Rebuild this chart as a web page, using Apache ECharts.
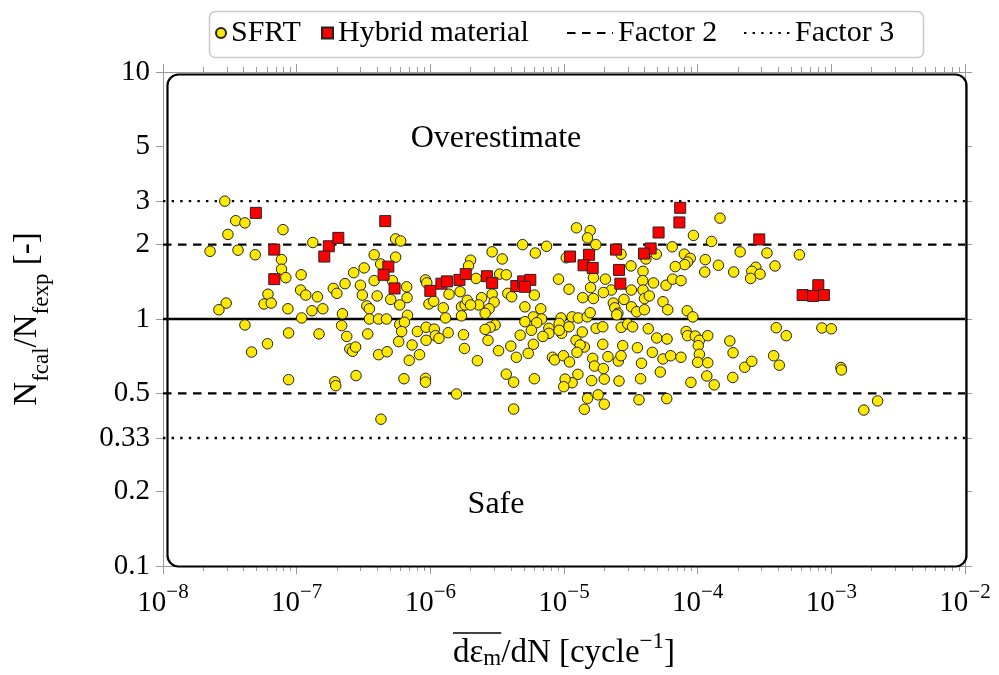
<!DOCTYPE html>
<html>
<head>
<meta charset="utf-8">
<script src="https://cdn.jsdelivr.net/npm/echarts@6/dist/echarts.min.js"></script>
<style>html,body{margin:0;padding:0;background:#fff}#c{width:999px;height:675px}</style>
</head>
<body>
<div id="c"></div>
<script>
// ---------- data ----------
const sfrt = [
 [2.9e-8,3.0],[3.5e-8,2.5],[4.1e-8,2.45],[3.06e-8,2.2],[7.9e-8,2.3],[2.25e-8,1.88],[3.64e-8,1.9],[4.9e-8,1.82],[1.32e-7,2.04],[7.7e-8,1.74],
 [7.7e-8,1.59],[8.3e-8,1.47],[1.08e-7,1.51],[6.1e-8,1.26],[5.7e-8,1.15],[6.45e-8,1.16],[2.97e-8,1.16],[2.62e-8,1.09],[8.6e-8,1.10],[1.07e-7,1.31],
 [1.17e-7,1.25],[1.43e-7,1.23],[1.30e-7,1.08],[1.57e-7,1.10],[1.09e-7,1.01],[4.1e-8,0.946],[8.7e-8,0.878],[1.47e-7,0.87],[6.05e-8,0.794],[4.6e-8,0.735],
 [8.7e-8,0.568],
 [5.5e-7,2.11],[6.0e-7,2.07],[3.8e-7,1.82],[5.5e-7,1.78],[4.25e-7,1.67],[3.2e-7,1.61],[2.67e-7,1.54],[2.3e-7,1.39],[3.0e-7,1.37],[3.8e-7,1.43],
 [5.2e-7,1.43],[6.65e-7,1.35],[6.7e-7,1.22],[9.2e-7,1.44],[9.4e-7,1.40],[1.88e-7,1.33],[2.0e-7,1.27],[3.1e-7,1.25],[4.0e-7,1.24],[5.05e-7,1.20],
 [5.9e-7,1.14],[9.76e-7,1.15],[1.06e-6,1.18],[3.35e-7,1.13],[3.5e-7,1.10],[2.2e-7,1.05],[3.5e-7,1.0],[4.1e-7,1.0],[4.7e-7,1.0],[6.75e-7,1.035],
 [1.25e-6,1.11],[1.30e-6,1.01],[1.71e-6,1.12],[1.82e-6,1.14],[1.89e-6,1.19],[1.71e-6,1.03],[2.17e-7,0.94],[2.37e-7,0.85],[3.4e-7,0.87],[5.9e-7,0.95],
 [6.4e-7,0.97],[6.1e-7,0.89],[5.8e-7,0.81],[8.0e-7,0.89],[9.3e-7,0.926],[1.07e-6,0.91],[1.09e-6,0.856],[9.3e-7,0.82],[1.16e-6,0.835],[1.36e-6,0.88],
 [1.77e-6,0.864],[1.8e-6,0.76],[2.5e-7,0.756],[2.62e-7,0.74],[2.76e-7,0.77],[4.1e-7,0.717],[4.75e-7,0.737],[7.3e-7,0.785],[8.3e-7,0.717],[6.95e-7,0.68],
 [2.78e-7,0.59],[1.93e-7,0.557],[1.96e-7,0.537],[6.35e-7,0.573],[9.2e-7,0.575],[9.2e-7,0.555],[1.57e-6,0.497],[4.27e-7,0.393],[1.38e-6,1.26],[1.67e-6,1.29],
 [1.24e-5,2.34],[1.57e-5,2.28],[1.50e-5,2.13],[1.73e-5,2.0],[4.9e-6,2.0],[7.4e-6,1.97],[6.1e-6,1.85],[1.04e-5,1.77],[2.9e-6,1.87],[3.45e-6,1.75],
 [2.0e-6,1.73],[1.93e-6,1.64],[2.2e-6,1.46],[3.3e-6,1.52],[3.7e-6,1.51],[9.1e-6,1.45],[1.09e-5,1.32],[1.66e-5,1.47],[1.58e-5,1.34],[1.38e-5,1.22],
 [1.66e-5,1.21],[2.42e-6,1.22],[2.9e-6,1.26],[3.0e-6,1.17],[2.75e-6,1.10],[2.3e-6,1.14],[2.0e-6,1.14],[3.8e-6,1.27],[4.06e-6,1.23],[6.0e-6,1.25],
 [5.1e-6,1.12],[6.7e-6,1.10],[2.57e-6,1.055],[5.9e-6,1.02],[6.8e-6,1.0],[9.5e-6,1.01],[1.15e-5,1.02],[1.28e-5,1.01],[1.49e-5,1.02],[1.57e-5,1.06],
 [5.1e-6,0.975],[6.25e-6,0.966],[3.05e-6,0.946],[2.8e-6,0.926],[2.57e-6,0.908],[4.7e-6,0.86],[5.7e-6,0.90],[7.7e-6,0.917],[7.7e-6,0.875],[9.2e-6,0.96],
 [9.6e-6,0.875],[1.09e-5,0.93],[9.2e-6,0.90],[6.95e-6,0.85],[1.23e-5,0.82],[1.37e-5,0.886],[1.42e-5,0.77],[1.32e-5,0.785],[1.74e-5,0.917],[2.7e-6,0.82],
 [3.24e-6,0.744],[4.0e-6,0.777],[5.9e-6,0.79],[5.4e-6,0.726],[4.4e-6,0.70],[2.25e-6,0.678],[8.2e-6,0.70],[8.5e-6,0.683],[9.9e-6,0.71],[1.1e-5,0.67],
 [1.25e-5,0.733],[1.64e-5,0.693],[1.69e-5,0.645],[1.27e-5,0.597],[1.15e-5,0.552],[1.02e-5,0.571],[9.95e-6,0.532],[1.61e-5,0.563],[3.7e-6,0.598],[4.2e-6,0.555],
 [6.0e-6,0.573],[1.5e-5,0.477],[1.8e-5,0.493],[1.42e-5,0.431],[4.2e-6,0.432],
 [1.47e-4,2.56],[9.3e-5,2.18],[1.27e-4,2.06],[6.45e-5,1.96],[4.9e-5,1.83],[4.1e-5,1.75],[2.67e-5,1.83],[7.95e-5,1.83],[8.8e-5,1.76],[8.4e-5,1.70],
 [8.0e-5,1.66],[1.14e-4,1.74],[1.43e-4,1.65],[1.13e-4,1.55],[1.86e-4,1.55],[6.8e-5,1.63],[3.17e-5,1.64],[3.9e-5,1.56],[3.88e-5,1.43],[3.9e-5,1.31],
 [4.0e-5,1.21],[4.67e-5,1.40],[5.8e-5,1.37],[6.5e-5,1.45],[7.5e-5,1.43],[2.04e-5,1.45],[2.26e-5,1.31],[1.97e-5,1.28],[3.19e-5,1.31],[4.35e-5,1.24],
 [2.81e-5,1.20],[2.34e-5,1.16],[2.4e-5,1.11],[2.53e-5,1.055],[2.48e-5,1.04],[5.5e-5,1.175],[5.97e-5,1.09],[3.2e-5,1.12],[3.5e-5,1.07],[4.0e-5,1.09],
 [8.35e-5,1.08],[9.2e-5,1.02],[1.95e-5,0.93],[2.68e-5,0.925],[3.0e-5,0.954],[3.26e-5,0.93],[4.27e-5,0.913],[4.94e-5,0.838],[5.9e-5,0.83],[8.2e-5,0.89],
 [8.4e-5,0.856],[9.6e-5,0.853],[1.03e-4,0.82],[1.19e-4,0.856],[1.95e-5,0.79],[2.75e-5,0.78],[3.54e-5,0.765],[4.58e-5,0.733],[5.5e-5,0.689],[6.28e-5,0.71],
 [7.5e-5,0.70],[1.01e-4,0.78],[1.03e-4,0.72],[1.0e-4,0.668],[1.19e-4,0.665],[2.13e-5,0.704],[2.55e-5,0.676],[2.67e-5,0.71],[3.8e-5,0.662],[1.97e-5,0.63],
 [2.0e-5,0.571],[2.58e-5,0.561],[3.74e-5,0.573],[5.25e-5,0.61],[8.9e-5,0.554],[1.17e-4,0.588],[1.33e-4,0.541],[1.83e-4,0.58],[3.64e-5,0.471],[5.87e-5,0.476],
 [2.0e-5,0.452],[1.74e-4,0.815],[1.84e-4,0.73],
 [2.08e-4,1.87],[3.3e-4,1.85],[5.77e-4,1.82],[2.72e-4,1.62],[2.54e-4,1.56],[2.93e-4,1.52],[2.49e-4,1.46],[3.79e-4,1.64],[3.87e-4,0.922],[4.6e-4,0.856],
 [8.5e-4,0.92],[1.0e-3,0.913],[3.7e-4,0.71],[4.08e-4,0.65],[2.25e-4,0.638],[2.54e-4,0.674],[1.18e-3,0.636],[1.19e-3,0.622],[2.22e-3,0.466],[1.75e-3,0.428]
];
const hybrid = [
 [4.95e-8,2.69],[6.8e-8,1.91],[6.8e-8,1.45],[1.74e-7,1.97],[1.61e-7,1.79],[2.05e-7,2.13],[4.6e-7,2.49],[4.85e-7,1.63],[4.47e-7,1.51],[5.4e-7,1.33],
 [1.0e-6,1.30],[1.21e-6,1.39],[1.33e-6,1.42],[1.65e-6,1.44],[1.84e-6,1.52],[2.65e-6,1.49],[2.9e-6,1.40],[4.4e-6,1.36],[4.95e-6,1.42],[5.6e-6,1.44],
 [5.1e-6,1.35],[1.11e-5,1.79],[1.54e-5,1.82],[1.40e-5,1.65],[1.64e-5,1.61],[7.4e-5,2.82],[7.3e-5,2.46],[5.1e-5,2.24],[4.45e-5,1.93],[3.97e-5,1.84],
 [2.45e-5,1.91],[2.58e-5,1.58],[2.64e-5,1.39],[2.89e-4,2.10],[7.99e-4,1.37],[6.1e-4,1.25],[7.3e-4,1.24],[8.8e-4,1.25]
];
const xRange = [1e-8, 1e-2];
const yRange = [0.1, 10];
const xMajorTicks = [1e-8, 1e-7, 1e-6, 1e-5, 1e-4, 1e-3, 1e-2];
const yTicks = [0.1, 0.2, 0.33, 0.5, 1, 2, 3, 5, 10];
const factor2Levels = [2, 0.5];
const factor3Levels = [3, 0.33];
const unityLevel = 1;
const notes = [
 {name: 'Overestimate', value: [3.1e-6, 5.4]},
 {name: 'Safe', value: [3.1e-6, 0.178]}
];

// minor tick values (2..9 x each decade)
const xMinorTicks = [];
for (let i = 0; i < xMajorTicks.length - 1; i++) {
  for (let m = 2; m <= 9; m++) xMinorTicks.push(+(m * xMajorTicks[i]).toPrecision(3));
}

const FONT = 'Liberation Serif';
const TICK_GRAY = '#9a9a9a';
const GRID = {left: 163, right: 34, top: 72, bottom: 109};
const W = 999, H = 675;

function hline(level) { return [[xRange[0], level], [xRange[1], level]]; }

const chart = echarts.init(document.getElementById('c'), null, {renderer: 'canvas'});

function xAxisDef(pos, ticks, len, labels) {
  return {
    type: 'log', logBase: 10, min: xRange[0], max: xRange[1], position: pos, gridIndex: 0,
    axisLine: {show: true, lineStyle: {color: TICK_GRAY, width: 1}},
    axisTick: {show: true, inside: false, length: len, customValues: ticks, lineStyle: {color: TICK_GRAY, width: 1}},
    axisLabel: labels ? {
      show: true, customValues: xMajorTicks, margin: 16, color: '#000',
      formatter: v => '{b|10}{s|\u2212' + Math.round(-Math.log10(v)) + '}',
      rich: {
        b: {fontFamily: FONT, fontSize: 29, lineHeight: 36, verticalAlign: 'bottom', color: '#000'},
        s: {fontFamily: FONT, fontSize: 21, lineHeight: 20, verticalAlign: 'top', color: '#000'}
      }
    } : {show: false},
    splitLine: {show: false}, minorTick: {show: false}
  };
}
function yAxisDef(pos, labels) {
  return {
    type: 'log', logBase: 10, min: yRange[0], max: yRange[1], position: pos,
    axisLine: {show: true, lineStyle: {color: TICK_GRAY, width: 1}},
    axisTick: {show: true, inside: false, length: 7, customValues: yTicks, lineStyle: {color: TICK_GRAY, width: 1}},
    axisLabel: labels ? {
      show: true, customValues: yTicks, margin: 13, color: '#000',
      fontFamily: FONT, fontSize: 29, formatter: v => String(v)
    } : {show: false},
    splitLine: {show: false}
  };
}

// x-axis title pieces
const XT = {main: 33, small: 23};
const xTitleParts = [['o', 'd\u03b5'], ['sub', 'm'], ['t', '/dN [cycle'], ['sup', '\u22121'], ['t', ']']];

const xAxes = [
  xAxisDef('bottom', xMajorTicks, 8, true),
  xAxisDef('bottom', xMinorTicks, 5, false),
  xAxisDef('top', xMajorTicks, 8, false),
  xAxisDef('top', xMinorTicks, 5, false)
];
const X_NAME_GAP = 64;
xAxes[0].name = xTitleParts.map(p => '{' + p[0] + '|' + p[1] + '}').join('');
xAxes[0].nameLocation = 'middle';
xAxes[0].nameGap = X_NAME_GAP;
xAxes[0].nameTextStyle = {
  color: '#000',
  rich: {
    o: {fontFamily: FONT, fontSize: XT.main, lineHeight: 40, verticalAlign: 'bottom', color: '#000'},
    t: {fontFamily: FONT, fontSize: XT.main, lineHeight: 40, verticalAlign: 'bottom', color: '#000'},
    sub: {fontFamily: FONT, fontSize: XT.small, lineHeight: 16, verticalAlign: 'bottom', color: '#000'},
    sup: {fontFamily: FONT, fontSize: XT.small, lineHeight: 22, verticalAlign: 'top', color: '#000'}
  }
};
const yAxes = [yAxisDef('left', true), yAxisDef('right', false)];
yAxes[0].name = '{t|N}{sub|fcal}{t|/N}{sub|fexp}{t| [-]}';
yAxes[0].nameLocation = 'middle';
yAxes[0].nameRotate = 90;
yAxes[0].nameGap = 110;
yAxes[0].nameTextStyle = {
  color: '#000',
  rich: {
    t: {fontFamily: FONT, fontSize: 33, lineHeight: 42, verticalAlign: 'top', color: '#000'},
    sub: {fontFamily: FONT, fontSize: 23, lineHeight: 16, verticalAlign: 'bottom', color: '#000'}
  }
};

// overline over "dε_m" computed from measured text widths
const mctx = document.createElement('canvas').getContext('2d');
function tw(txt, size) { mctx.font = size + 'px "' + FONT + '"'; return mctx.measureText(txt).width; }
const partW = xTitleParts.map(p => tw(p[1], (p[0] === 'o' || p[0] === 't') ? XT.main : XT.small));
const totalW = partW.reduce((a, b) => a + b, 0);
const plotCx = GRID.left + (W - GRID.left - GRID.right) / 2;
const olX1 = plotCx - totalW / 2;
const olX2 = olX1 + partW[0] + partW[1];
const olY = (H - GRID.bottom) + X_NAME_GAP + 3;

const lineBase = {type: 'line', xAxisIndex: 0, yAxisIndex: 0, symbol: 'none', showSymbol: false, silent: true, z: 2};
const series = [];
factor2Levels.forEach(l => series.push(Object.assign({}, lineBase, {
  name: 'Factor 2', data: hline(l), lineStyle: {color: '#000', width: 2.2, type: [8.5, 6.5]}, itemStyle: {color: '#000'}
})));
factor3Levels.forEach(l => series.push(Object.assign({}, lineBase, {
  name: 'Factor 3', data: hline(l), lineStyle: {color: '#000', width: 2.4, type: [2.4, 6.2], cap: 'butt'}, itemStyle: {color: '#000'}
})));
series.push(Object.assign({}, lineBase, {
  name: 'unity', data: hline(unityLevel), lineStyle: {color: '#000', width: 2.6, type: 'solid'}
}));
series.push({
  name: 'SFRT', type: 'scatter', data: sfrt, symbol: 'circle', symbolSize: 10.5, z: 3,
  itemStyle: {color: '#ffe900', borderColor: '#222', borderWidth: 1, opacity: 1}
});
series.push({
  name: 'Hybrid material', type: 'scatter', data: hybrid, symbol: 'rect', symbolSize: 11, z: 4,
  itemStyle: {color: '#ff0000', borderColor: '#222', borderWidth: 1, opacity: 1}
});
series.push({
  name: 'notes', type: 'scatter', data: notes, symbolSize: 0, z: 5, silent: true,
  itemStyle: {opacity: 1, color: '#000'},
  label: {show: true, position: 'inside', formatter: p => p.name, fontFamily: FONT, fontSize: 32,
          color: '#000', opacity: 1, textBorderWidth: 0, textShadowBlur: 0}
});

const legendText = {fontFamily: FONT, fontSize: 30, color: '#000', lineHeight: 32};
const legendBase = {top: 17, padding: 0, itemHeight: 10, textStyle: legendText, selectedMode: false};
const hiddenSymbol = {color: 'rgba(0,0,0,0)', borderWidth: 0, opacity: 0};
const option = {
  animation: false,
  backgroundColor: '#fff',
  grid: Object.assign({containLabel: false}, GRID),
  xAxis: xAxes,
  yAxis: yAxes,
  legend: [
    Object.assign({}, legendBase, {data: [{name: 'SFRT', icon: 'circle'}], left: 215, itemWidth: 10}),
    Object.assign({}, legendBase, {data: [{name: 'Hybrid material', icon: 'rect'}], left: 321, itemWidth: 11, itemHeight: 11}),
    Object.assign({}, legendBase, {data: ['Factor 2'], left: 566, itemWidth: 46, itemStyle: hiddenSymbol}),
    Object.assign({}, legendBase, {data: ['Factor 3'], left: 743, itemWidth: 46, itemStyle: hiddenSymbol})
  ],
  graphic: [
    {type: 'rect', left: 207, top: 9, shape: {width: 714, height: 46, r: 6}, style: {fill: 'none', stroke: '#c9c9c9', lineWidth: 1.5}, z: 1},
    {type: 'rect', left: 165, top: 72, shape: {width: 799, height: 492, r: 11}, style: {fill: 'none', stroke: '#000', lineWidth: 2.2}, z: 10},
    {type: 'line', shape: {x1: olX1, y1: olY, x2: olX2, y2: olY}, style: {stroke: '#000', lineWidth: 1.3}, z: 10}
  ],
  series: series
};
chart.setOption(option);
</script>
</body>
</html>
